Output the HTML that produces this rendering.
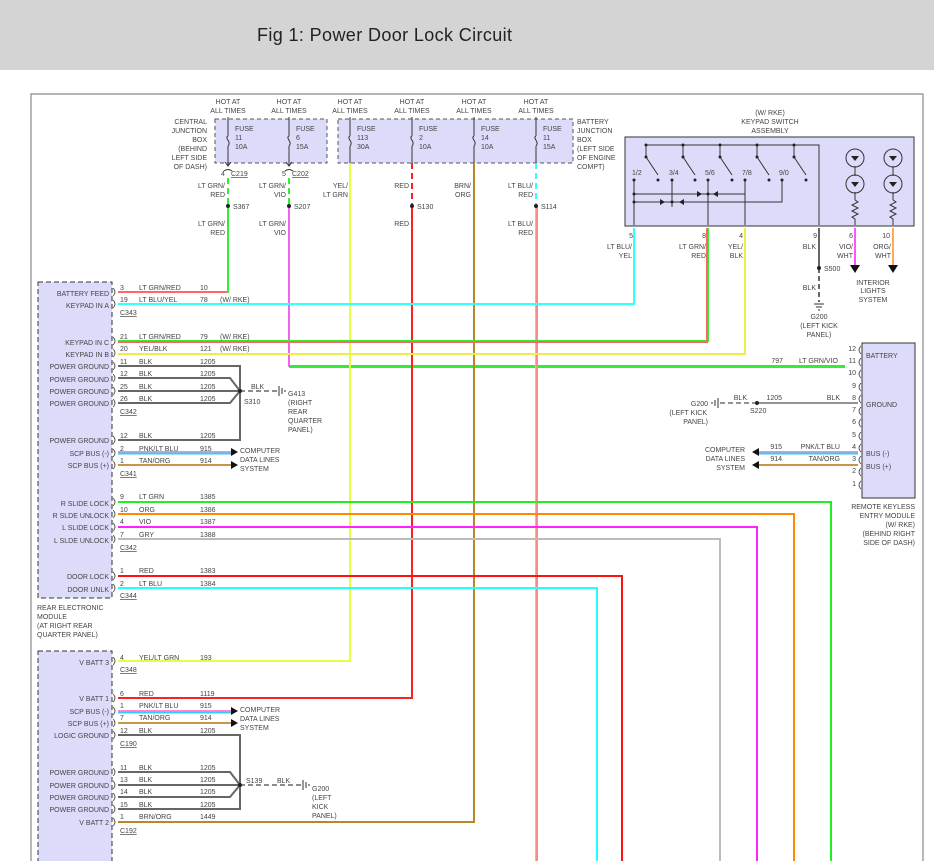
<!DOCTYPE html>
<html><head><meta charset="utf-8"><style>
html,body{margin:0;padding:0;background:#fff;}
svg{display:block}
text{font-family:"Liberation Sans",sans-serif;font-size:7px;fill:#444}
.r{text-anchor:end}.m{text-anchor:middle}
.w{fill:none;stroke-width:2}
</style></head><body>
<svg width="934" height="861" viewBox="0 0 934 861" xmlns="http://www.w3.org/2000/svg">
<rect x="0" y="0" width="934" height="70" fill="#d4d4d4"/>
<text x="257" y="41" style="font-size:18px;fill:#222" textLength="255">Fig 1: Power Door Lock Circuit</text>
<path d="M31 861 V94 H923 V861" fill="none" stroke="#888" stroke-width="1.2"/>

<!-- junction boxes -->
<rect x="215" y="119" width="112" height="44" fill="#dcdcfa" stroke="#555" stroke-dasharray="4,3"/>
<rect x="338" y="119" width="235" height="44" fill="#dcdcfa" stroke="#555" stroke-dasharray="4,3"/>
<g class="m">
<text x="228" y="104">HOT AT</text><text x="228" y="113">ALL TIMES</text>
<text x="289" y="104">HOT AT</text><text x="289" y="113">ALL TIMES</text>
<text x="350" y="104">HOT AT</text><text x="350" y="113">ALL TIMES</text>
<text x="412" y="104">HOT AT</text><text x="412" y="113">ALL TIMES</text>
<text x="474" y="104">HOT AT</text><text x="474" y="113">ALL TIMES</text>
<text x="536" y="104">HOT AT</text><text x="536" y="113">ALL TIMES</text>
</g>
<g class="r"><text x="207" y="124">CENTRAL</text><text x="207" y="133">JUNCTION</text><text x="207" y="142">BOX</text><text x="207" y="151">(BEHIND</text><text x="207" y="160">LEFT SIDE</text><text x="207" y="169">OF DASH)</text></g>
<g><text x="577" y="124">BATTERY</text><text x="577" y="133">JUNCTION</text><text x="577" y="142">BOX</text><text x="577" y="151">(LEFT SIDE</text><text x="577" y="160">OF ENGINE</text><text x="577" y="169">COMPT)</text></g>
<g stroke="#333" stroke-width="1" fill="none">
<path d="M228 117V136 M228 146V165 M228 136c-4 2 4 6 0 10"/>
<path d="M289 117V136 M289 146V165 M289 136c-4 2 4 6 0 10"/>
<path d="M350 117V136 M350 146V163 M350 136c-4 2 4 6 0 10"/>
<path d="M412 117V136 M412 146V163 M412 136c-4 2 4 6 0 10"/>
<path d="M474 117V136 M474 146V163 M474 136c-4 2 4 6 0 10"/>
<path d="M536 117V136 M536 146V163 M536 136c-4 2 4 6 0 10"/>
<path d="M225 162l3 4 3-4 M286 162l3 4 3-4 M224 171q4-3 8 0 M285 171q4-3 8 0"/>
</g>
<g>
<text x="235" y="131">FUSE</text><text x="235" y="140">11</text><text x="235" y="149">10A</text>
<text x="296" y="131">FUSE</text><text x="296" y="140">6</text><text x="296" y="149">15A</text>
<text x="357" y="131">FUSE</text><text x="357" y="140">113</text><text x="357" y="149">30A</text>
<text x="419" y="131">FUSE</text><text x="419" y="140">2</text><text x="419" y="149">10A</text>
<text x="481" y="131">FUSE</text><text x="481" y="140">14</text><text x="481" y="149">10A</text>
<text x="543" y="131">FUSE</text><text x="543" y="140">11</text><text x="543" y="149">15A</text>
<text x="221" y="176">4</text><text x="231" y="176" text-decoration="underline">C219</text>
<text x="282" y="176">5</text><text x="292" y="176" text-decoration="underline">C202</text>
</g>
<g class="r">
<text x="225" y="188">LT GRN/</text><text x="225" y="197">RED</text><text x="225" y="226">LT GRN/</text><text x="225" y="235">RED</text>
<text x="286" y="188">LT GRN/</text><text x="286" y="197">VIO</text><text x="286" y="226">LT GRN/</text><text x="286" y="235">VIO</text>
<text x="348" y="188">YEL/</text><text x="348" y="197">LT GRN</text>
<text x="409" y="188">RED</text><text x="409" y="226">RED</text>
<text x="471" y="188">BRN/</text><text x="471" y="197">ORG</text>
<text x="533" y="188">LT BLU/</text><text x="533" y="197">RED</text><text x="533" y="226">LT BLU/</text><text x="533" y="235">RED</text>
</g>
<g><text x="233" y="209">S367</text><text x="294" y="209">S207</text><text x="417" y="209">S130</text><text x="541" y="209">S114</text></g>

<!-- vertical feeds -->
<path class="w" stroke="#33ee33" stroke-dasharray="6,4" d="M228 178V206"/>
<path class="w" stroke="#33ee33" d="M228 206V292H118"/>
<path class="w" stroke="#ff6666" stroke-width="1" d="M227 292H118"/>
<path class="w" stroke="#33ee33" stroke-dasharray="6,4" d="M289 178V206"/>
<path class="w" stroke="#ee66ee" d="M289 206V366H845"/>
<path class="w" stroke="#33ee33" stroke-width="1" d="M289 367H845"/>
<path class="w" stroke="#e8ff40" d="M350 163V661H118"/>
<path class="w" stroke="#ff2020" stroke-dasharray="6,4" d="M412 163V206"/>
<path class="w" stroke="#ff2020" d="M412 206V698H118"/>
<path class="w" stroke="#b8862b" d="M474 163V822H118"/>
<path class="w" stroke="#33ffff" stroke-dasharray="6,4" d="M536 163V206"/>
<path class="w" stroke="#33ffff" d="M536 206V861"/>
<path class="w" stroke="#ff8888" stroke-width="0.8" d="M537 206V861"/>
<g fill="#222"><circle cx="228" cy="206" r="2"/><circle cx="289" cy="206" r="2"/><circle cx="412" cy="206" r="2"/><circle cx="536" cy="206" r="2"/></g>

<!-- keypad -->
<g class="m"><text x="770" y="115">(W/ RKE)</text><text x="770" y="124">KEYPAD SWITCH</text><text x="770" y="133">ASSEMBLY</text></g>
<rect x="625" y="137" width="289" height="89" fill="#dcdcfa" stroke="#333"/>
<g stroke="#333" stroke-width="1" fill="none">
<path d="M646 145H819V225"/>
<path d="M683 145V157 M720 145V157 M757 145V157 M794 145V157 M646 145V157"/>
<path d="M646 157l12 18 M683 157l12 18 M720 157l12 18 M757 157l12 18 M794 157l12 18"/>
<path d="M634 180V225 M672 180V207 M708 180V225 M745 180V225 M782 180V202H634"/>
<path d="M634 194H745 M708 194V180"/>
<path d="M855 166V176 M855 192V200 M893 166V176 M893 192V200 M855 200l3 2-6 3 6 3-6 3 6 3-6 3 3 2V225 M893 200l3 2-6 3 6 3-6 3 6 3-6 3 3 2V225"/>
<circle cx="855" cy="158" r="9"/><circle cx="855" cy="184" r="9"/><circle cx="893" cy="158" r="9"/><circle cx="893" cy="184" r="9"/>
</g>
<g fill="#222">
<circle cx="646" cy="145" r="1.5"/><circle cx="683" cy="145" r="1.5"/><circle cx="720" cy="145" r="1.5"/><circle cx="757" cy="145" r="1.5"/><circle cx="794" cy="145" r="1.5"/>
<circle cx="646" cy="157" r="1.5"/><circle cx="683" cy="157" r="1.5"/><circle cx="720" cy="157" r="1.5"/><circle cx="757" cy="157" r="1.5"/><circle cx="794" cy="157" r="1.5"/>
<circle cx="658" cy="180" r="1.5"/><circle cx="695" cy="180" r="1.5"/><circle cx="732" cy="180" r="1.5"/><circle cx="769" cy="180" r="1.5"/><circle cx="806" cy="180" r="1.5"/>
<circle cx="634" cy="180" r="1.5"/><circle cx="672" cy="180" r="1.5"/><circle cx="708" cy="180" r="1.5"/><circle cx="745" cy="180" r="1.5"/><circle cx="782" cy="180" r="1.5"/>
<circle cx="634" cy="194" r="1.5"/><circle cx="708" cy="194" r="1.5"/><circle cx="634" cy="202" r="1.5"/><circle cx="672" cy="202" r="1.5"/>
<path d="M697 191v6l5-3z M718 191v6l-5-3z M660 199v6l5-3z M684 199v6l-5-3z"/>
<path d="M851 156h8l-4 5z M851 182h8l-4 5z M889 156h8l-4 5z M889 182h8l-4 5z"/>
</g>
<g><text x="632" y="175">1/2</text><text x="669" y="175">3/4</text><text x="705" y="175">5/6</text><text x="742" y="175">7/8</text><text x="779" y="175">9/0</text></g>
<g class="r">
<text x="633" y="238">5</text><text x="706" y="238">8</text><text x="743" y="238">4</text><text x="817" y="238">9</text><text x="853" y="238">6</text><text x="890" y="238">10</text>
<text x="632" y="249">LT BLU/</text><text x="632" y="258">YEL</text>
<text x="706" y="249">LT GRN/</text><text x="706" y="258">RED</text>
<text x="743" y="249">YEL/</text><text x="743" y="258">BLK</text>
<text x="816" y="249">BLK</text><text x="816" y="290">BLK</text>
<text x="853" y="249">VIO/</text><text x="853" y="258">WHT</text>
<text x="891" y="249">ORG/</text><text x="891" y="258">WHT</text>
</g>
<text x="824" y="271">S500</text>
<g class="m"><text x="873" y="285">INTERIOR</text><text x="873" y="293">LIGHTS</text><text x="873" y="302">SYSTEM</text>
<text x="819" y="319">G200</text><text x="819" y="328">(LEFT KICK</text><text x="819" y="337">PANEL)</text></g>
<path class="w" stroke="#33ffff" d="M634 228V304H118"/>
<path class="w" stroke="#33ee33" d="M708 228V341H118"/>
<path class="w" stroke="#ff6666" stroke-width="0.8" d="M707 228V342H118"/>
<path class="w" stroke="#eeee44" d="M745 228V354H118"/>
<path class="w" stroke="#666" stroke-width="1.5" d="M819 228V268"/>
<path class="w" stroke="#666" stroke-width="1.5" stroke-dasharray="5,3" d="M819 268V302"/>
<circle cx="819" cy="268" r="2" fill="#222"/>
<path d="M814 304h10 M816 307h6 M818 310h2" stroke="#333"/>
<path class="w" stroke="#ff55ff" d="M855 228V265"/>
<path class="w" stroke="#ffaa55" d="M893 228V265"/>
<path d="M850 265h10l-5 8z M888 265h10l-5 8z" fill="#111"/>

<!-- rear electronic module -->
<rect x="38" y="282" width="74" height="316" fill="#dcdcfa" stroke="#333" stroke-dasharray="5,3"/>
<g class="r">
<text x="109" y="296">BATTERY FEED</text><text x="109" y="308">KEYPAD IN A</text>
<text x="109" y="345">KEYPAD IN C</text><text x="109" y="357">KEYPAD IN B</text>
<text x="109" y="369">POWER GROUND</text><text x="109" y="382">POWER GROUND</text><text x="109" y="394">POWER GROUND</text><text x="109" y="406">POWER GROUND</text>
<text x="109" y="443">POWER GROUND</text><text x="109" y="456">SCP BUS (-)</text><text x="109" y="468">SCP BUS (+)</text>
<text x="109" y="506">R SLIDE LOCK</text><text x="109" y="518">R SLDE UNLOCK</text><text x="109" y="530">L SLIDE LOCK</text><text x="109" y="543">L SLDE UNLOCK</text>
<text x="109" y="579">DOOR LOCK</text><text x="109" y="592">DOOR UNLK</text>
</g>
<g><text x="37" y="610">REAR ELECTRONIC</text><text x="37" y="619">MODULE</text><text x="37" y="628">(AT RIGHT REAR</text><text x="37" y="637">QUARTER PANEL)</text></g>
<g>
<text x="120" y="290">3</text><text x="139" y="290">LT GRN/RED</text><text x="200" y="290">10</text>
<text x="120" y="302">19</text><text x="139" y="302">LT BLU/YEL</text><text x="200" y="302">78</text><text x="220" y="302">(W/ RKE)</text>
<text x="120" y="315" text-decoration="underline">C343</text>
<text x="120" y="339">21</text><text x="139" y="339">LT GRN/RED</text><text x="200" y="339">79</text><text x="220" y="339">(W/ RKE)</text>
<text x="120" y="351">20</text><text x="139" y="351">YEL/BLK</text><text x="200" y="351">121</text><text x="220" y="351">(W/ RKE)</text>
<text x="120" y="364">11</text><text x="139" y="364">BLK</text><text x="200" y="364">1205</text>
<text x="120" y="376">12</text><text x="139" y="376">BLK</text><text x="200" y="376">1205</text>
<text x="120" y="389">25</text><text x="139" y="389">BLK</text><text x="200" y="389">1205</text>
<text x="120" y="401">26</text><text x="139" y="401">BLK</text><text x="200" y="401">1205</text>
<text x="120" y="414" text-decoration="underline">C342</text>
<text x="120" y="438">12</text><text x="139" y="438">BLK</text><text x="200" y="438">1205</text>
<text x="120" y="451">2</text><text x="139" y="451">PNK/LT BLU</text><text x="200" y="451">915</text>
<text x="120" y="463">1</text><text x="139" y="463">TAN/ORG</text><text x="200" y="463">914</text>
<text x="120" y="476" text-decoration="underline">C341</text>
<text x="251" y="389">BLK</text><text x="244" y="404">S310</text>
<text x="288" y="396">G413</text><text x="288" y="405">(RIGHT</text><text x="288" y="414">REAR</text><text x="288" y="423">QUARTER</text><text x="288" y="432">PANEL)</text>
<text x="240" y="453">COMPUTER</text><text x="240" y="462">DATA LINES</text><text x="240" y="471">SYSTEM</text>
<text x="120" y="499">9</text><text x="139" y="499">LT GRN</text><text x="200" y="499">1385</text>
<text x="120" y="512">10</text><text x="139" y="512">ORG</text><text x="200" y="512">1386</text>
<text x="120" y="524">4</text><text x="139" y="524">VIO</text><text x="200" y="524">1387</text>
<text x="120" y="537">7</text><text x="139" y="537">GRY</text><text x="200" y="537">1388</text>
<text x="120" y="550" text-decoration="underline">C342</text>
<text x="120" y="573">1</text><text x="139" y="573">RED</text><text x="200" y="573">1383</text>
<text x="120" y="586">2</text><text x="139" y="586">LT BLU</text><text x="200" y="586">1384</text>
<text x="120" y="598" text-decoration="underline">C344</text>
</g>
<g class="w" stroke="#666" stroke-width="1.5">
<path d="M118 366H240V440H118 M118 378H230L240 391 M118 391H240 M118 403H230L240 391"/>
</g>
<path d="M240 391H278" stroke="#666" stroke-width="1.5" stroke-dasharray="5,3"/>
<circle cx="240" cy="391" r="2" fill="#222"/>
<path d="M279 386v10 M282 388v6 M285 390v2" stroke="#333"/>
<path class="w" stroke="#ff88cc" d="M118 452H232"/><path class="w" stroke="#33ccff" stroke-width="0.8" d="M118 453.5H232"/>
<path class="w" stroke="#c8964a" d="M118 465H232"/>
<path d="M231 448l7 4-7 4z M231 461l7 4-7 4z" fill="#111"/>
<path class="w" stroke="#22ee22" d="M118 502H831V861"/>
<path class="w" stroke="#ff8800" d="M118 514H794V861"/>
<path class="w" stroke="#ff22ff" d="M118 527H757V861"/>
<path class="w" stroke="#bbbbbb" d="M118 539H720V861"/>
<path class="w" stroke="#ff1111" d="M118 576H622V861"/>
<path class="w" stroke="#22ffff" d="M118 588H597V861"/>
<g stroke="#444" fill="none" stroke-width="0.8">
<path d="M113 288q4 4 0 8 M113 300q4 4 0 8 M113 337q4 4 0 8 M113 349q4 4 0 8 M113 362q4 4 0 8 M113 374q4 4 0 8 M113 387q4 4 0 8 M113 399q4 4 0 8 M113 436q4 4 0 8 M113 449q4 4 0 8 M113 461q4 4 0 8 M113 498q4 4 0 8 M113 510q4 4 0 8 M113 523q4 4 0 8 M113 535q4 4 0 8 M113 572q4 4 0 8 M113 584q4 4 0 8"/>
<path d="M113 657q4 4 0 8 M113 694q4 4 0 8 M113 707q4 4 0 8 M113 719q4 4 0 8 M113 731q4 4 0 8 M113 768q4 4 0 8 M113 781q4 4 0 8 M113 793q4 4 0 8 M113 805q4 4 0 8 M113 818q4 4 0 8"/>
</g>

<!-- lower module -->
<rect x="38" y="651" width="74" height="220" fill="#dcdcfa" stroke="#333" stroke-dasharray="5,3"/>
<g class="r">
<text x="109" y="665">V BATT 3</text><text x="109" y="701">V BATT 1</text><text x="109" y="714">SCP BUS (-)</text><text x="109" y="726">SCP BUS (+)</text><text x="109" y="738">LOGIC GROUND</text>
<text x="109" y="775">POWER GROUND</text><text x="109" y="788">POWER GROUND</text><text x="109" y="800">POWER GROUND</text><text x="109" y="812">POWER GROUND</text><text x="109" y="825">V BATT 2</text>
</g>
<g>
<text x="120" y="660">4</text><text x="139" y="660">YEL/LT GRN</text><text x="200" y="660">193</text>
<text x="120" y="672" text-decoration="underline">C348</text>
<text x="120" y="696">6</text><text x="139" y="696">RED</text><text x="200" y="696">1119</text>
<text x="120" y="708">1</text><text x="139" y="708">PNK/LT BLU</text><text x="200" y="708">915</text>
<text x="120" y="720">7</text><text x="139" y="720">TAN/ORG</text><text x="200" y="720">914</text>
<text x="120" y="733">12</text><text x="139" y="733">BLK</text><text x="200" y="733">1205</text>
<text x="120" y="746" text-decoration="underline">C190</text>
<text x="120" y="770">11</text><text x="139" y="770">BLK</text><text x="200" y="770">1205</text>
<text x="120" y="782">13</text><text x="139" y="782">BLK</text><text x="200" y="782">1205</text>
<text x="120" y="794">14</text><text x="139" y="794">BLK</text><text x="200" y="794">1205</text>
<text x="120" y="807">15</text><text x="139" y="807">BLK</text><text x="200" y="807">1205</text>
<text x="120" y="819">1</text><text x="139" y="819">BRN/ORG</text><text x="200" y="819">1449</text>
<text x="120" y="833" text-decoration="underline">C192</text>
<text x="240" y="712">COMPUTER</text><text x="240" y="721">DATA LINES</text><text x="240" y="730">SYSTEM</text>
<text x="246" y="783">S139</text><text x="277" y="783">BLK</text>
<text x="312" y="791">G200</text><text x="312" y="800">(LEFT</text><text x="312" y="809">KICK</text><text x="312" y="818">PANEL)</text>
</g>
<path class="w" stroke="#ff88cc" d="M118 711H232"/><path class="w" stroke="#33ccff" stroke-width="0.8" d="M118 712.5H232"/>
<path class="w" stroke="#c8964a" d="M118 723H232"/>
<path d="M231 707l7 4-7 4z M231 719l7 4-7 4z" fill="#111"/>
<g class="w" stroke="#666" stroke-width="1.5">
<path d="M118 735H240V809H118 M118 772H230L240 785 M118 785H240 M118 797H230L240 785"/>
</g>
<path d="M240 785H302" stroke="#666" stroke-width="1.5" stroke-dasharray="5,3"/>
<circle cx="240" cy="785" r="2" fill="#222"/>
<path d="M303 780v10 M306 782v6 M309 784v2" stroke="#333"/>

<!-- remote keyless -->
<rect x="862" y="343" width="53" height="155" fill="#dcdcfa" stroke="#333"/>
<g><text x="866" y="358">BATTERY</text><text x="866" y="407">GROUND</text><text x="866" y="456">BUS (-)</text><text x="866" y="469">BUS (+)</text></g>
<g class="r">
<text x="856" y="351">12</text><text x="856" y="363">11</text><text x="856" y="375">10</text><text x="856" y="388">9</text><text x="856" y="400">8</text><text x="856" y="412">7</text><text x="856" y="424">6</text><text x="856" y="437">5</text><text x="856" y="449">4</text><text x="856" y="461">3</text><text x="856" y="473">2</text><text x="856" y="486">1</text>
<text x="838" y="363">LT GRN/VIO</text><text x="783" y="363">797</text>
<text x="840" y="400">BLK</text><text x="782" y="400">1205</text><text x="747" y="400">BLK</text>
<text x="840" y="449">PNK/LT BLU</text><text x="782" y="449">915</text>
<text x="840" y="461">TAN/ORG</text><text x="782" y="461">914</text>
<text x="708" y="406">G200</text><text x="707" y="415">(LEFT KICK</text><text x="708" y="424">PANEL)</text>
<text x="745" y="452">COMPUTER</text><text x="745" y="461">DATA LINES</text><text x="745" y="470">SYSTEM</text>
<text x="915" y="509">REMOTE KEYLESS</text><text x="915" y="518">ENTRY MODULE</text><text x="915" y="527">(W/ RKE)</text><text x="915" y="536">(BEHIND RIGHT</text><text x="915" y="545">SIDE OF DASH)</text>
</g>
<text x="750" y="413">S220</text>
<g stroke="#444" fill="none" stroke-width="0.8">
<path d="M861 346q-4 4 0 8 M861 358q-4 4 0 8 M861 370q-4 4 0 8 M861 383q-4 4 0 8 M861 395q-4 4 0 8 M861 407q-4 4 0 8 M861 419q-4 4 0 8 M861 432q-4 4 0 8 M861 444q-4 4 0 8 M861 456q-4 4 0 8 M861 468q-4 4 0 8 M861 481q-4 4 0 8"/>
</g>
<path d="M757 403H858" stroke="#555" stroke-width="1.2"/>
<path d="M720 403H757" stroke="#555" stroke-width="1.2" stroke-dasharray="5,3"/>
<circle cx="757" cy="403" r="2" fill="#222"/>
<path d="M718 398v10 M715 400v6 M712 402v2" stroke="#333"/>
<path class="w" stroke="#ff88cc" d="M758 452H858"/><path class="w" stroke="#33ccff" stroke-width="0.8" d="M758 453.5H858"/>
<path class="w" stroke="#c8964a" d="M758 465H858"/>
<path d="M759 448l-7 4 7 4z M759 461l-7 4 7 4z" fill="#111"/>
</svg>
</body></html>
